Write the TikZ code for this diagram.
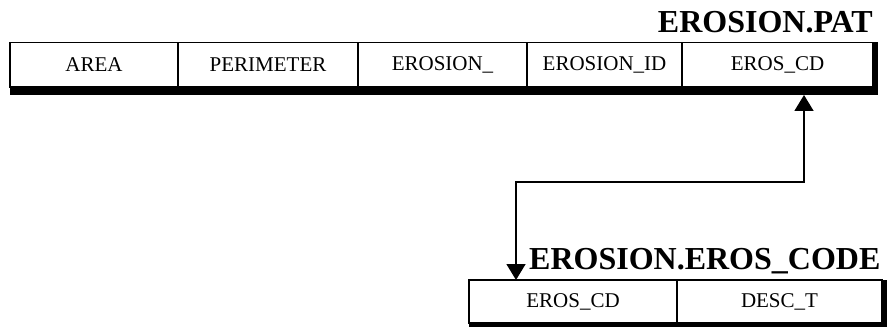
\documentclass[tikz,border=0pt]{standalone}
\usepackage{fontspec}
\setmainfont{Liberation Serif}
\usetikzlibrary{arrows.meta, positioning, calc, backgrounds}
\tikzset{
    field/.style     ={rectangle, draw=black, line width=1.6pt, fill=white, minimum height=44.5pt, inner sep=0pt, outer sep=0pt, text centered, font=\fontsize{21}{24}\selectfont},
    tabletitle/.style={font=\bfseries\fontsize{32}{36}\selectfont, inner sep=0pt},
    shadow/.style    ={fill=black},
    relarrow/.style  ={{Triangle[length=16pt, width=19pt]}-{Triangle[length=16pt, width=19pt]}, line width=1.6pt},
}
\begin{document}
\begin{tikzpicture}[x=1pt, y=-1pt]
                \useasboundingbox (0,0) rectangle (895,329);
                % EROSION.PAT
                \node[field, minimum width=168pt, anchor=north west] (area) at (10,42.5) {AREA};
                \node[field, minimum width=180pt, right=0pt of area] (perim) {PERIMETER};
                \node[field, minimum width=169pt, right=0pt of perim] (erosn) {EROSION\_};
                \node[field, minimum width=155pt, right=0pt of erosn] (erosid) {EROSION\_ID};
                \node[field, minimum width=191pt, right=0pt of erosid] (patcd) {EROS\_CD};
                \node[tabletitle, anchor=base east] (pattitle) at ($(patcd.north east)+(0,-9.5)$) {EROSION.PAT};
                % EROSION.EROS_CODE
                \node[field, minimum width=208pt, minimum height=43pt, anchor=north west] (codecd) at (469,280) {EROS\_CD};
                \node[field, minimum width=205pt, minimum height=43pt, right=0pt of codecd] (desct) {DESC\_T};
                \node[tabletitle, anchor=base west] (codetitle) at ($(codecd.north west)+(60,-11)$) {EROSION.EROS\_CODE};
                \begin{scope}[on background layer]
                    \fill[shadow] (area.north west) rectangle ($(patcd.south east)+(5,8)$);
                    \fill[shadow] (codecd.north west) rectangle ($(desct.south east)+(5,4)$);
                \end{scope}
                \coordinate (pkend) at ($(patcd.south)+(26.5,8)$);
                \coordinate (fkend) at ($(codecd.north west)+(47,0)$);
                \draw[relarrow] (fkend) -- ++(0,-98) -| (pkend);
            \end{tikzpicture}
\end{document}
